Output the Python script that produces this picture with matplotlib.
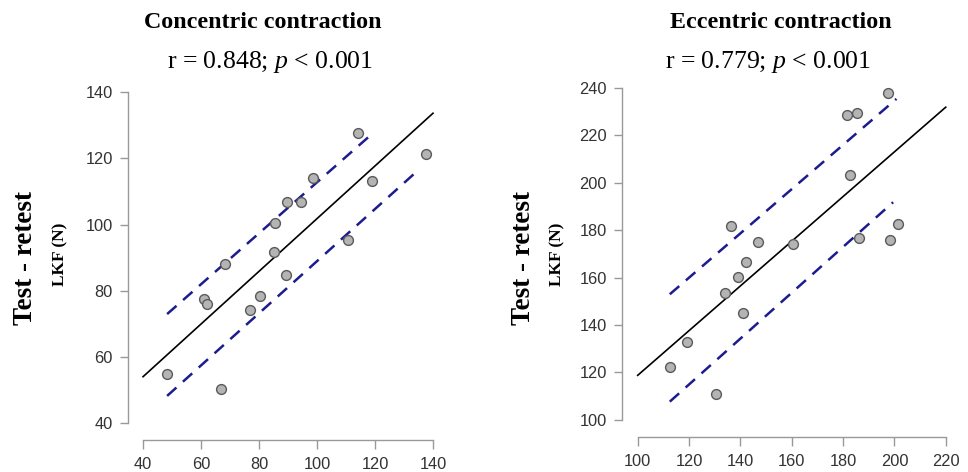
import matplotlib
matplotlib.use('Agg')
import matplotlib.pyplot as plt

# Concentric contraction (left panel)
con_x = [48.3, 61.1, 62.2, 66.8, 68.3, 77.0, 80.3, 85.6, 85.1, 89.5, 89.2,
         94.5, 98.7, 110.6, 114.2, 119.1, 137.6]
con_y = [54.9, 77.5, 76.0, 50.4, 88.1, 74.2, 78.3, 100.5, 91.7, 106.8, 84.7,
         106.8, 114.1, 95.4, 127.5, 113.1, 121.4]
con_fit_x = [40, 140]
con_fit_y = [54.1, 133.6]
con_upper_x = [48.3, 118.9]
con_upper_y = [73.0, 127.3]
con_lower_x = [48.3, 135.0]
con_lower_y = [48.3, 116.5]
con_xticks = [40, 60, 80, 100, 120, 140]
con_yticks = [40, 60, 80, 100, 120, 140]

# Eccentric contraction (right panel)
ecc_x = [197.5, 181.6, 185.4, 182.9, 136.3, 201.6, 186.2, 198.3, 146.9, 160.5,
         142.3, 138.9, 134.0, 140.9, 119.2, 112.5, 130.6]
ecc_y = [238.0, 228.5, 229.6, 203.2, 181.9, 182.8, 176.9, 175.9, 175.2, 174.1,
         166.6, 160.2, 153.7, 145.2, 133.0, 122.4, 111.1]
ecc_fit_x = [100, 220]
ecc_fit_y = [118.8, 231.9]
ecc_upper_x = [112.5, 200.8]
ecc_upper_y = [153.0, 235.4]
ecc_lower_x = [112.5, 199.5]
ecc_lower_y = [107.7, 191.8]
ecc_xticks = [100, 120, 140, 160, 180, 200, 220]
ecc_yticks = [100, 120, 140, 160, 180, 200, 220, 240]

titles = ['Concentric contraction', 'Eccentric contraction']
r_values = ['0.848', '0.779']

serif = ['Liberation Serif', 'DejaVu Serif']
plt.rcParams['font.family'] = ['Liberation Sans', 'DejaVu Sans']
plt.rcParams['mathtext.fontset'] = 'custom'
plt.rcParams['mathtext.rm'] = 'Liberation Serif'
plt.rcParams['mathtext.it'] = 'Liberation Serif:italic'

fig = plt.figure(figsize=(9.68, 4.72), dpi=100)


def panel(rect, x, y, fit_x, fit_y, up_x, up_y, lo_x, lo_y, xticks, yticks, xlim, ylim):
    ax = fig.add_axes(rect)
    ax.plot(fit_x, fit_y, color='black', lw=1.2, zorder=2)
    ax.plot(up_x, up_y, color='#1c1c8e', lw=1.8, dashes=(5, 3.5), zorder=2)
    ax.plot(lo_x, lo_y, color='#1c1c8e', lw=1.8, dashes=(5, 3.5), zorder=2)
    ax.scatter(x, y, s=50, facecolor='#b4b4b4', edgecolor='#5a5a5a', lw=1.0, zorder=3)
    ax.set_xlim(*xlim)
    ax.set_ylim(*ylim)
    ax.set_xticks(xticks)
    ax.set_yticks(yticks)
    for side in ['top', 'right']:
        ax.spines[side].set_visible(False)
    ax.spines['left'].set_bounds(yticks[0], yticks[-1])
    ax.spines['bottom'].set_bounds(xticks[0], xticks[-1])
    for side in ['left', 'bottom']:
        ax.spines[side].set_color('#999999')
        ax.spines[side].set_linewidth(1.0)
    ax.tick_params(axis='y', length=6, width=1.0, color='#999999', labelsize=11.8,
                   labelcolor='#333333', pad=5)
    ax.tick_params(axis='x', length=6.5, width=1.0, color='#999999', labelsize=11.8,
                   labelcolor='#333333', pad=5.5)
    ax.patch.set_visible(False)
    return ax


panel([0.1322, 0.0678, 0.3271, 0.7513], con_x, con_y, con_fit_x, con_fit_y,
      con_upper_x, con_upper_y, con_lower_x, con_lower_y,
      con_xticks, con_yticks, (34.8, 144), (35.0, 142))
panel([0.6426, 0.0742, 0.3450, 0.7595], ecc_x, ecc_y, ecc_fit_x, ecc_fit_y,
      ecc_upper_x, ecc_upper_y, ecc_lower_x, ecc_lower_y,
      ecc_xticks, ecc_yticks, (93.9, 224), (92.8, 244))

# titles and correlation text
title_x = [263 / 968, 781 / 968]
r_x = [270 / 968, 768 / 968]
for tx, rx, t, r in zip(title_x, r_x, titles, r_values):
    fig.text(tx, 1 - 22 / 472, t, family=serif, fontsize=17.3, fontweight='bold',
             ha='center', va='center')
    fig.text(rx, 1 - 62 / 472, 'r = ' + r + '; $\\mathit{p}$ < 0.001', family=serif,
             fontsize=18.5, ha='center', va='center')

# y labels
for lx, kx in [(26 / 968, 60 / 968), (524 / 968, 557 / 968)]:
    fig.text(lx, 1 - 258 / 472, 'Test - retest', family=serif, fontsize=19.5,
             fontweight='bold', rotation=90, ha='center', va='center')
    fig.text(kx, 1 - 254 / 472, 'LKF (N)', family=serif, fontsize=12.5,
             fontweight='bold', rotation=90, ha='center', va='center')

fig.savefig('out.png', dpi=100)
